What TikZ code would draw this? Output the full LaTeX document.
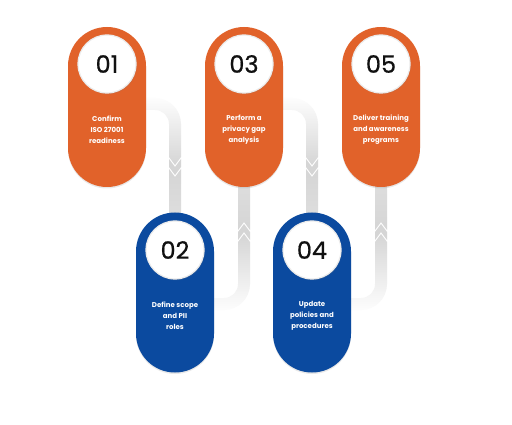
\documentclass[tikz,border=0pt]{standalone}
\usepackage{fontspec}
\setmainfont{Poppins}
\newfontfamily\numfont[FakeBold=0.7]{Poppins}
\usetikzlibrary{shadows}
\definecolor{porange}{HTML}{E1622A}
\definecolor{pblue}{HTML}{0B4A9F}
\definecolor{bandgray}{HTML}{D5D5D5}
\definecolor{bandlight}{HTML}{FDFDFD}
\definecolor{numblack}{HTML}{111111}
% down band: #1 source pill centre x, #2 target pill centre x
\newcommand\downband[2]{%
  \shade[top color=bandlight, bottom color=bandgray]
    (#1+30,98) -- (#2-20,98) .. controls (#2-5.64,98) and (#2+6,109.64) .. (#2+6,124)
    -- (#2+6,157) -- (#2,165) -- (#2-6,157) -- (#2-6,124)
    .. controls (#2-6,116.27) and (#2-12.27,110) .. (#2-20,110) -- (#1+30,110) -- cycle;
  \fill[bandgray] (#2-6,159) -- (#2,167) -- (#2+6,159) -- (#2+6,167) -- (#2,175) -- (#2-6,167) -- cycle;
  \shade[top color=bandgray, bottom color=bandgray!70!white]
    (#2-6,169) -- (#2,177) -- (#2+6,169) -- (#2+6,240) -- (#2-6,240) -- cycle;
}
% up band: #1 source pill centre x (lower row), #2 target pill centre x (upper row)
\newcommand\upband[2]{%
  \shade[top color=bandgray, bottom color=bandlight]
    (#1+30,298) -- (#2-20,298) .. controls (#2-12.27,298) and (#2-6,291.73) .. (#2-6,284)
    -- (#2-6,242) -- (#2,234) -- (#2+6,242) -- (#2+6,284)
    .. controls (#2+6,298.36) and (#2-5.64,310) .. (#2-20,310) -- (#1+30,310) -- cycle;
  \fill[bandgray] (#2-6,240) -- (#2,232) -- (#2+6,240) -- (#2+6,232) -- (#2,224) -- (#2-6,232) -- cycle;
  \shade[top color=bandgray!70!white, bottom color=bandgray]
    (#2-6,230) -- (#2,222) -- (#2+6,230) -- (#2+6,160) -- (#2-6,160) -- cycle;
}
\begin{document}
\begin{tikzpicture}[x=1pt,y=-1pt,
  pill/.style={rectangle, minimum width=78pt, minimum height=160pt, rounded corners=39pt,
    inner sep=0pt, drop shadow={opacity=0.18, shadow xshift=0pt, shadow yshift=-1.5pt}},
  numcirc/.style={circle, fill=white, draw=black!8, line width=1.2pt, minimum size=58pt,
    inner sep=0pt, font=\numfont\fontsize{24}{24}\selectfont, text=numblack,
    drop shadow={opacity=0.18, shadow xshift=0.8pt, shadow yshift=-1.2pt}},
  steptext/.style={align=center, text=white, font=\fontsize{7}{11}\selectfont\bfseries}
]
\useasboundingbox[fill=white] (0,0) rectangle (512,425);

% connector bands (behind the pills)
\downband{107}{175}
\upband{175}{244}
\downband{244}{312}
\upband{312}{381}

% pills
\node[pill, fill=porange] (p1) at (107,107) {};
\node[pill, fill=pblue]   (p2) at (175,292.5) {};
\node[pill, fill=porange] (p3) at (244,107) {};
\node[pill, fill=pblue]   (p4) at (312,292.5) {};
\node[pill, fill=porange] (p5) at (381,107) {};

% number circles
\node[numcirc] (c1) at (107,64) {01};
\node[numcirc] (c2) at (175,250) {02};
\node[numcirc] (c3) at (244,64) {03};
\node[numcirc] (c4) at (312,250) {04};
\node[numcirc] (c5) at (381,64) {05};

% texts
\node[steptext] (t1) at (107,130) {Confirm\\ISO 27001\\readiness};
\node[steptext] (t2) at (175,316) {Define scope\\and PII\\roles};
\node[steptext] (t3) at (244,130) {Perform a\\privacy gap\\analysis};
\node[steptext] (t4) at (312,316) {Update\\policies and\\procedures};
\node[steptext] (t5) at (381,130) {Deliver training\\and awareness\\programs};
\end{tikzpicture}
\end{document}
